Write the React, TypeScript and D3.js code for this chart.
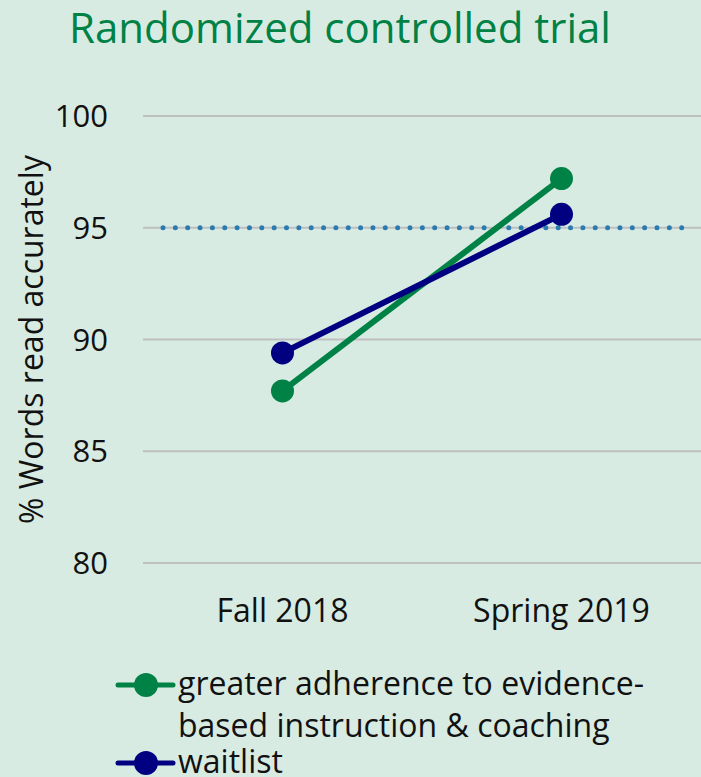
import React from "react";
import * as d3 from "d3";

const categories = ["Fall 2018", "Spring 2019"];
const seriesNames = ["greater adherence to evidence-based instruction & coaching", "waitlist"];
const legendLines = [["greater adherence to evidence-", "based instruction & coaching"], ["waitlist"]];
const greaterAdherence = [87.7, 97.2];
const waitlist = [89.4, 95.6];
const yTicks = [80, 85, 90, 95, 100];
const benchmark = 95;
const title = "Randomized controlled trial";
const yTitle = "% Words read accurately";

const W = 701;
const H = 777;
const BG = "#d8ebe2";
const GREEN = "#008145";
const NAVY = "#000080";
const FONT = "'Open Sans', sans-serif";

export default function App() {
  const margin = { left: 143, right: 0, top: 116, bottom: 214 };
  const x = d3.scalePoint<string>().domain(categories).range([margin.left, W - margin.right]).padding(0.5);
  const y = d3.scaleLinear().domain([80, 100]).range([H - margin.bottom, margin.top]);
  const line = d3.line<number>().x((_, i) => x(categories[i])!).y((d) => y(d));
  const series = [
    { name: seriesNames[0], values: greaterAdherence, color: GREEN },
    { name: seriesNames[1], values: waitlist, color: NAVY },
  ];
  return (
    <svg width={W} height={H} style={{ position: "absolute", left: 0, top: 0, background: BG }} fontFamily={FONT}>
      <rect width={W} height={H} fill={BG} />
      <text x={340} y={43} fill={GREEN} fontSize={42} textAnchor="middle">{title}</text>
      {yTicks.map((t) => (
        <g key={t}>
          <line x1={margin.left} x2={W} y1={y(t)} y2={y(t)} stroke="#bfbfbf" strokeWidth={2} />
          <text x={108} y={y(t) + 11} fontSize={31} textAnchor="end" fill="#111">{t}</text>
        </g>
      ))}
      <line x1={163} x2={682} y1={y(benchmark)} y2={y(benchmark)} stroke="#2a7bb0" strokeWidth={5} strokeLinecap="round" strokeDasharray="0 12.35" />
      <text transform={`translate(43, ${(y(80) + y(100)) / 2}) rotate(-90)`} fontSize={32} textAnchor="middle" fill="#111">{yTitle}</text>
      {categories.map((c) => (
        <text key={c} x={x(c)} y={622} fontSize={32} textAnchor="middle" fill="#111">{c}</text>
      ))}
      {series.map((s) => (
        <g key={s.name}>
          <path d={line(s.values)!} fill="none" stroke={s.color} strokeWidth={6} />
          {s.values.map((v, i) => (
            <circle key={i} cx={x(categories[i])} cy={y(v)} r={11.5} fill={s.color} />
          ))}
        </g>
      ))}
      {series.map((s, si) => {
        const ly = si === 0 ? 685 : 763;
        return (
          <g key={s.name}>
            <line x1={118} x2={173} y1={ly} y2={ly} stroke={s.color} strokeWidth={5} strokeLinecap="round" />
            <circle cx={146} cy={ly} r={12} fill={s.color} />
            {legendLines[si].map((t, li) => (
              <text key={li} x={178} y={ly + 10 + li * 42} fontSize={32} fill="#111">{t}</text>
            ))}
          </g>
        );
      })}
    </svg>
  );
}
